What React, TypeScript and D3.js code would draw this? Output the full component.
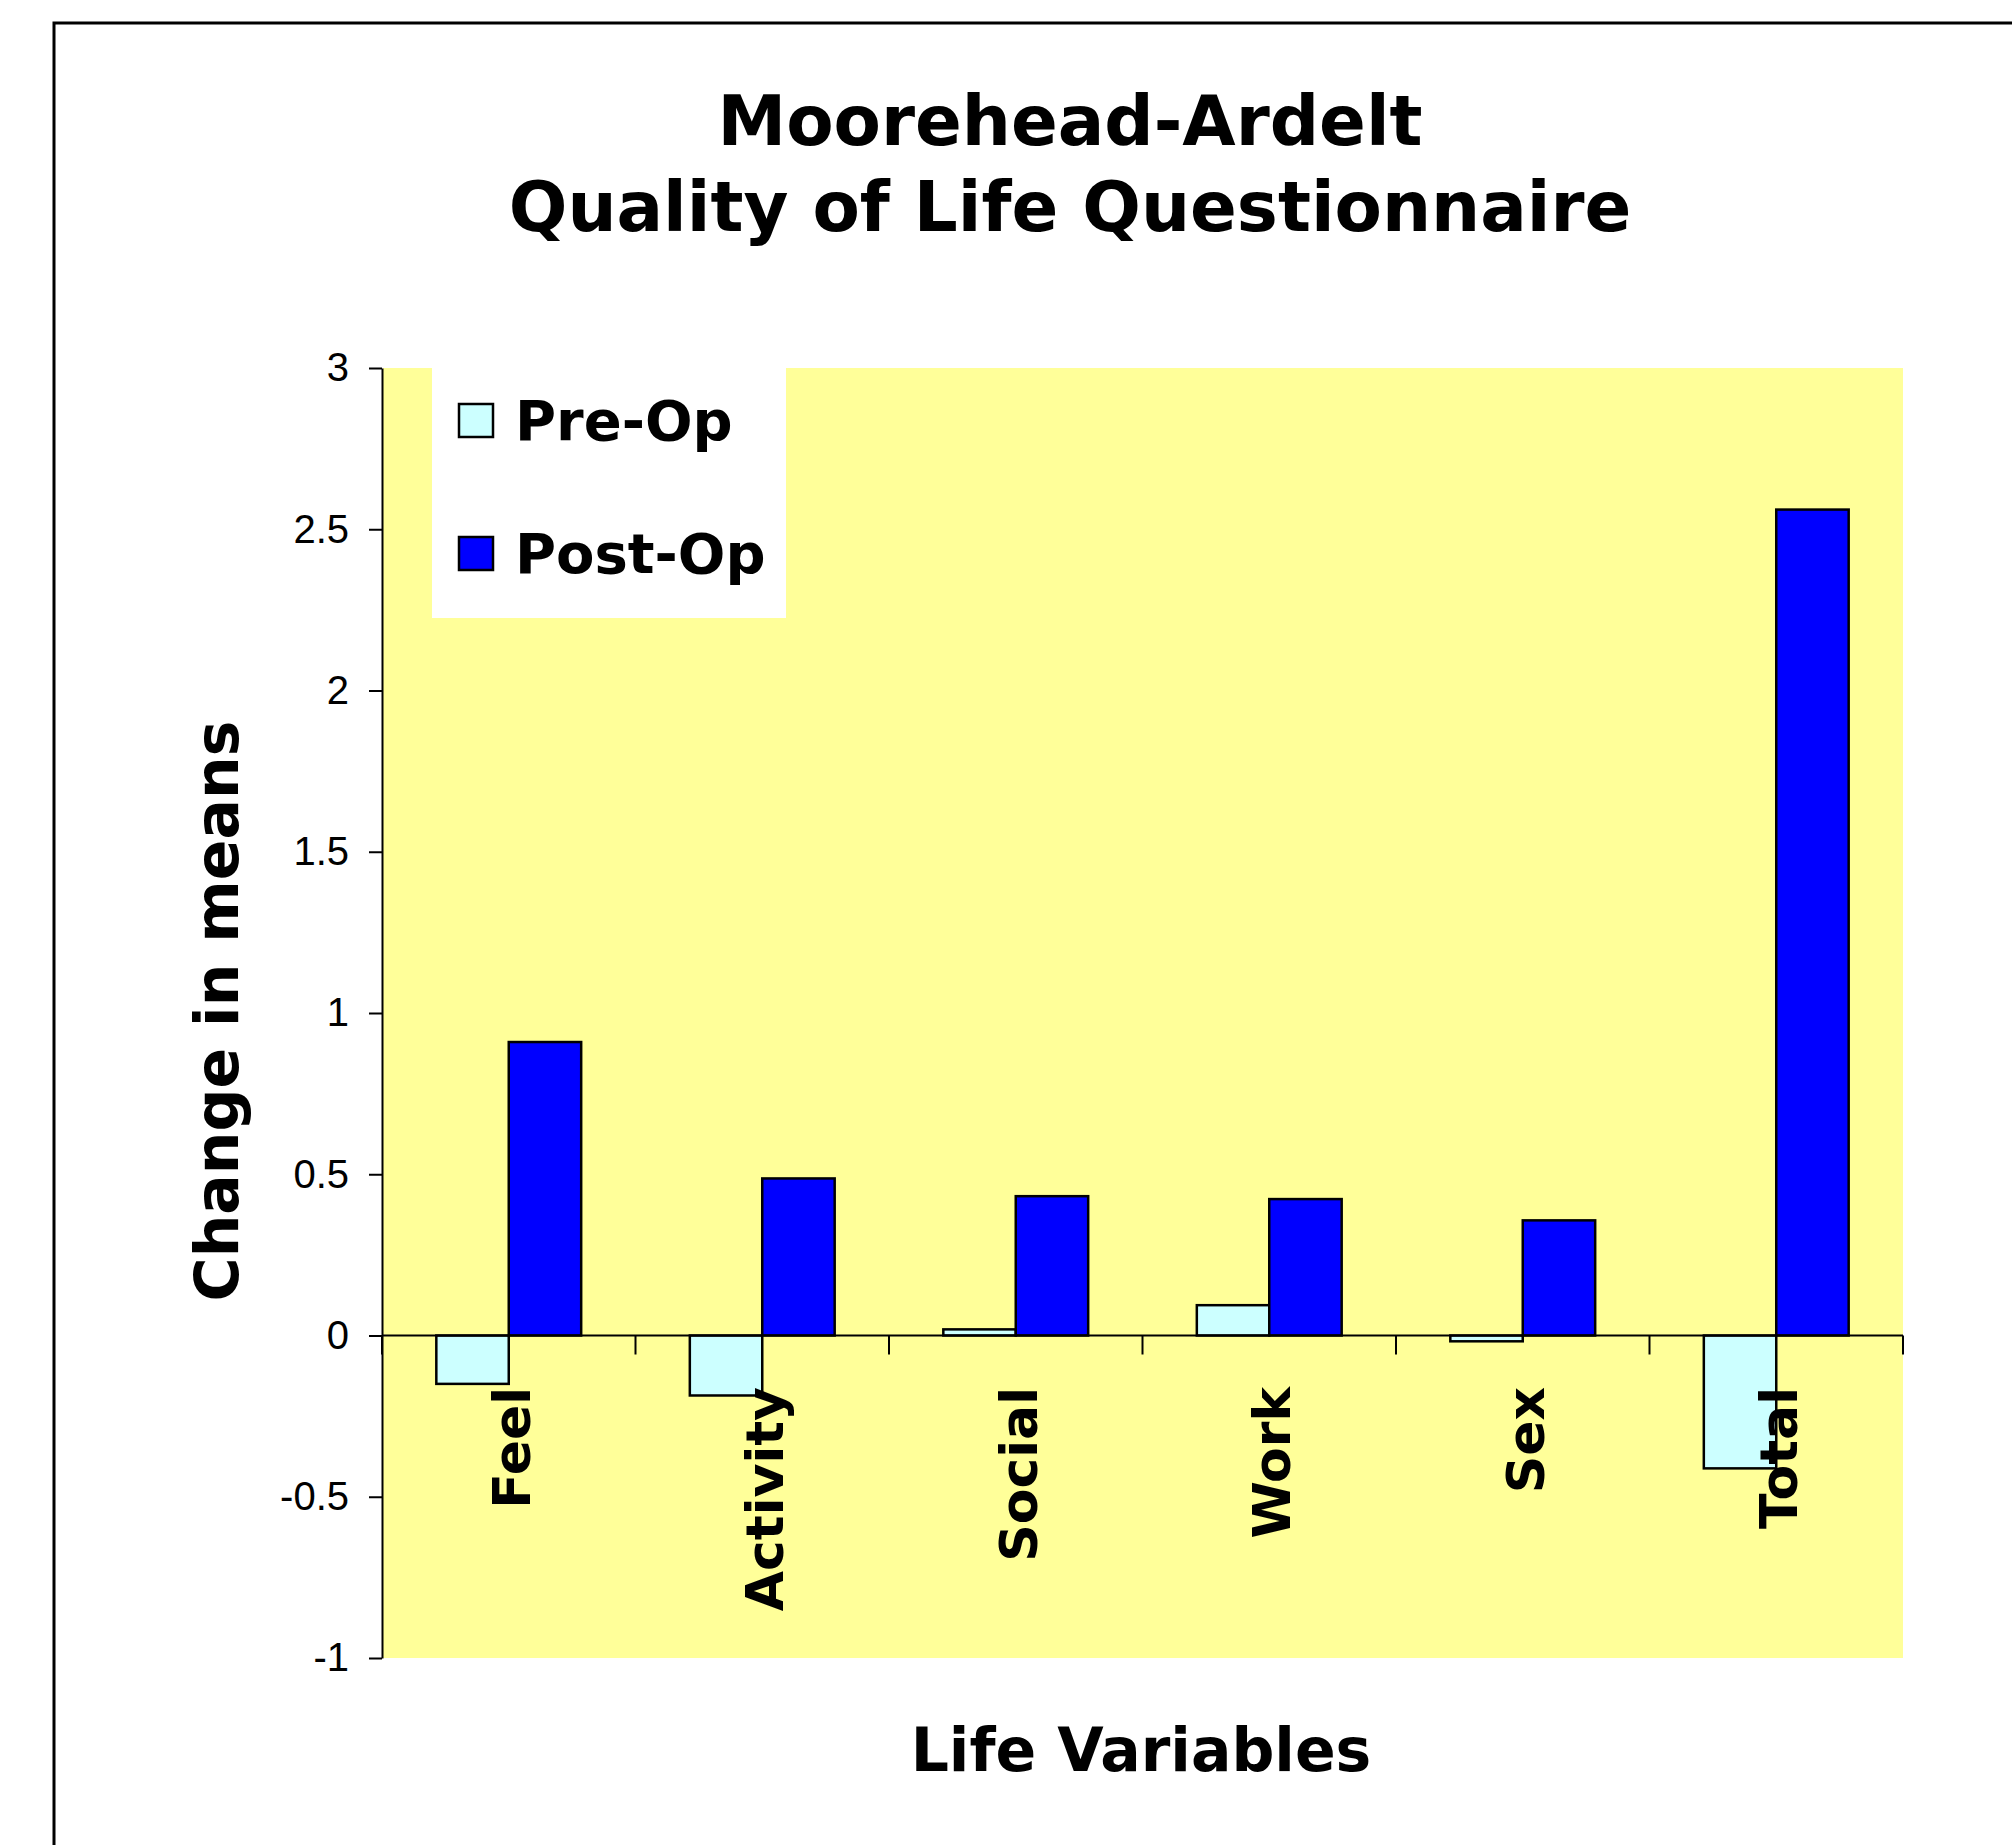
import React, { useRef, useEffect } from "react";
import * as d3 from "d3";

const categories = ["Feel", "Activity", "Social", "Work", "Sex", "Total"];
const preOp = [-0.15, -0.186, 0.019, 0.094, -0.018, -0.412];
const postOp = [0.91, 0.487, 0.432, 0.423, 0.357, 2.561];
const seriesNames = ["Pre-Op", "Post-Op"];
const seriesColors = ["#CCFFFF", "#0000FF"];
const yTicks = [-1, -0.5, 0, 0.5, 1, 1.5, 2, 2.5, 3];
const titleLines = ["Moorehead-Ardelt", "Quality of Life Questionnaire"];

const App = () => {
  const node: any = useRef();
  const width = 2012,
    height = 1845;

  useEffect(() => {
    const svg = d3.select(node.current);
    svg.selectAll("*").remove();
    svg.attr("width", width).attr("height", height);

    const bold = "'DejaVu Sans', Verdana, sans-serif";
    const margin = { top: 368, right: 109, bottom: 187, left: 382 };
    const plotRight = width - margin.right;
    const plotBottom = height - margin.bottom;

    // scales
    const y = d3.scaleLinear().domain([-1, 3]).range([plotBottom, margin.top]);
    const x0 = d3.scaleBand().domain(categories).range([margin.left, plotRight]);
    const x1 = d3
      .scaleBand()
      .domain(seriesNames)
      .range([0, x0.bandwidth()])
      .paddingInner(0)
      .paddingOuter(0.75);

    // outer border (only top and left visible)
    svg
      .append("path")
      .attr("d", `M54,${height} V23 H${width}`)
      .attr("fill", "none")
      .attr("stroke", "#000")
      .attr("stroke-width", 3);

    // title
    svg
      .selectAll("text.title")
      .data(titleLines)
      .enter()
      .append("text")
      .attr("class", "title")
      .attr("x", 1070)
      .attr("y", (d, i) => 145 + i * 86)
      .attr("text-anchor", "middle")
      .attr("font-family", bold)
      .attr("font-weight", "bold")
      .attr("font-size", 69)
      .text((d) => d);

    // plot background
    svg
      .append("rect")
      .attr("x", margin.left + 1)
      .attr("y", margin.top)
      .attr("width", plotRight - margin.left - 1)
      .attr("height", plotBottom - margin.top)
      .attr("fill", "#FFFF99");

    // legend
    const legend = svg.append("g");
    legend
      .append("rect")
      .attr("x", 432)
      .attr("y", margin.top)
      .attr("width", 354)
      .attr("height", 250)
      .attr("fill", "#fff");
    const items = legend
      .selectAll("g.item")
      .data(seriesNames)
      .enter()
      .append("g")
      .attr("transform", (d, i) => `translate(0,${i * 133})`);
    items
      .append("rect")
      .attr("x", 459)
      .attr("y", 404)
      .attr("width", 34)
      .attr("height", 33)
      .attr("fill", (d, i) => seriesColors[i])
      .attr("stroke", "#000")
      .attr("stroke-width", 2.5);
    items
      .append("text")
      .attr("x", 515)
      .attr("y", 440)
      .attr("font-family", bold)
      .attr("font-weight", "bold")
      .attr("font-size", 56)
      .text((d) => d);

    // bars
    const rows = categories.map((c, i) => ({ c, values: [preOp[i], postOp[i]] }));
    const groups = svg
      .selectAll("g.cat")
      .data(rows)
      .enter()
      .append("g")
      .attr("transform", (d) => `translate(${x0(d.c)},0)`);
    groups
      .selectAll("rect")
      .data((d) => d.values.map((v, j) => ({ v, s: seriesNames[j], j })))
      .enter()
      .append("rect")
      .attr("x", (d) => x1(d.s) || 0)
      .attr("y", (d) => y(Math.max(0, d.v)))
      .attr("width", x1.bandwidth())
      .attr("height", (d) => Math.abs(y(d.v) - y(0)))
      .attr("fill", (d) => seriesColors[d.j])
      .attr("stroke", "#000")
      .attr("stroke-width", 2.5);

    // Y axis
    const yAxis = svg
      .append("g")
      .attr("transform", `translate(${margin.left},0)`)
      .call(
        d3
          .axisLeft(y)
          .tickValues(yTicks)
          .tickSize(13)
          .tickSizeOuter(0)
          .tickPadding(20)
          .tickFormat((d: any) => String(d))
      );
    yAxis.select(".domain").attr("stroke", "#000").attr("stroke-width", 2);
    yAxis.selectAll(".tick line").attr("stroke", "#000").attr("stroke-width", 2);
    yAxis
      .selectAll(".tick text")
      .attr("font-family", "'Liberation Sans', Arial, sans-serif")
      .attr("font-size", 40)
      .attr("fill", "#000");

    // X axis line at zero with category boundary ticks
    svg
      .append("line")
      .attr("x1", margin.left)
      .attr("x2", plotRight)
      .attr("y1", y(0))
      .attr("y2", y(0))
      .attr("stroke", "#000")
      .attr("stroke-width", 2);
    const bounds = [...categories.map((c) => x0(c) || 0), plotRight];
    svg
      .selectAll("line.xtick")
      .data(bounds)
      .enter()
      .append("line")
      .attr("x1", (d) => d)
      .attr("x2", (d) => d)
      .attr("y1", y(0))
      .attr("y2", y(0) + 19)
      .attr("stroke", "#000")
      .attr("stroke-width", 2);

    // category labels, rotated
    svg
      .selectAll("text.cat")
      .data(categories)
      .enter()
      .append("text")
      .attr(
        "transform",
        (d) => `translate(${(x0(d) || 0) + x0.bandwidth() / 2 + 21},1387) rotate(-90)`
      )
      .attr("text-anchor", "end")
      .attr("font-family", bold)
      .attr("font-weight", "bold")
      .attr("font-size", 52)
      .text((d) => d);

    // axis titles
    svg
      .append("text")
      .attr("transform", "translate(238,1011) rotate(-90)")
      .attr("text-anchor", "middle")
      .attr("font-family", bold)
      .attr("font-weight", "bold")
      .attr("font-size", 60)
      .text("Change in means");
    svg
      .append("text")
      .attr("x", 1141)
      .attr("y", 1771)
      .attr("text-anchor", "middle")
      .attr("font-family", bold)
      .attr("font-weight", "bold")
      .attr("font-size", 60)
      .text("Life Variables");
  }, []);

  return (
    <div style={{ position: "absolute", left: 0, top: 0 }}>
      <svg ref={node} style={{ display: "block", background: "#fff" }}></svg>
    </div>
  );
};

export default App;
